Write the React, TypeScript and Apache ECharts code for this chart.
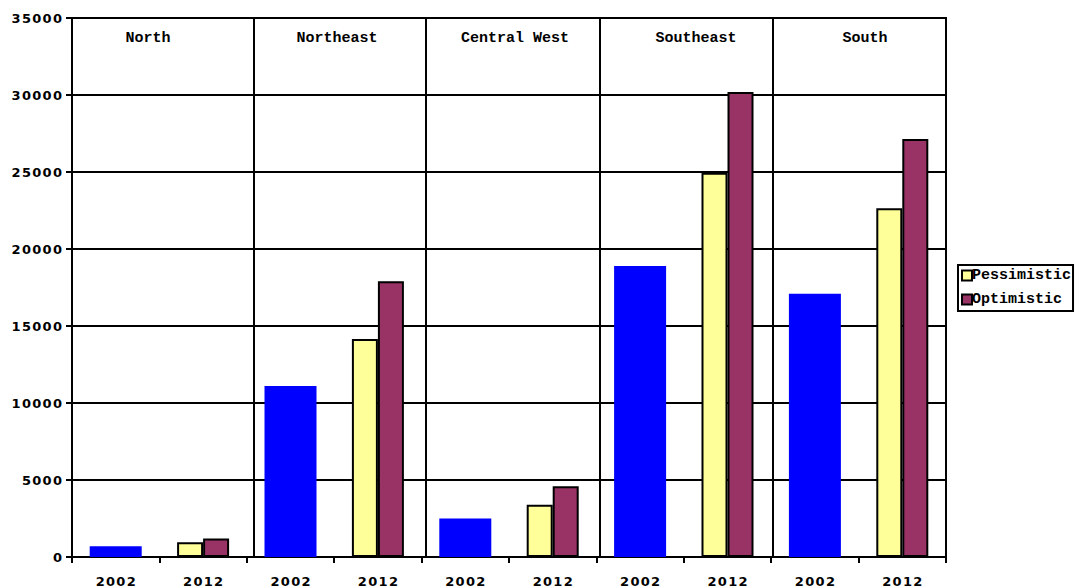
import React, { useEffect, useRef } from "react";
import * as echarts from "echarts";

const regions = ["North", "Northeast", "Central West", "Southeast", "South"];
const years = ["2002", "2012"];
const actual2002 = [700, 11100, 2500, 18900, 17100];
const pessimistic2012 = [950, 14150, 3400, 24950, 22650];
const optimistic2012 = [1200, 17900, 4600, 30200, 27150];
const yTicks = { min: 0, max: 35000, interval: 5000 };
const separatorsAt = [2.08, 4.05, 6.04, 8.02];
const regionLabelX = [148, 337, 515, 696, 865];

export default function App() {
  const ref = useRef<HTMLDivElement>(null);
  useEffect(() => {
    document.body.style.margin = "0";
    const chart = echarts.init(ref.current!, null, { renderer: "svg" });
    const cats: string[] = [];
    const blue: (number | null)[] = [];
    const pes: (number | null)[] = [];
    const opt: (number | null)[] = [];
    regions.forEach((r, i) => {
      years.forEach((y) => {
        cats.push(r + "|" + y);
        if (y === "2002") {
          blue.push(actual2002[i]);
          pes.push(null);
          opt.push(null);
        } else {
          blue.push(null);
          pes.push(pessimistic2012[i]);
          opt.push(optimistic2012[i]);
        }
      });
    });
    const labelFont = {
      fontFamily: "DejaVu Sans",
      fontWeight: "bold" as const,
      fontSize: 13,
      color: "#000",
    };
    chart.setOption({
      animation: false,
      backgroundColor: "#fff",
      grid: {
        left: 72,
        right: 133,
        top: 18,
        bottom: 31,
        show: true,
        borderColor: "#000",
        borderWidth: 2,
        backgroundColor: "transparent",
      },
      legend: {
        data: ["Pessimistic", "Optimistic"],
        orient: "vertical",
        left: 958,
        top: 265,
        padding: [3, 2, 4, 3],
        itemGap: 9,
        itemWidth: 10,
        itemHeight: 10,
        borderColor: "#000",
        borderWidth: 2,
        icon: "rect",
        align: "left",
        textStyle: {
          fontFamily: "Liberation Mono",
          fontWeight: "bold",
          fontSize: 15,
          color: "#000",
          padding: [5, 0, 0, -5],
        },
      },
      xAxis: [
        {
          type: "category",
          data: cats,
          boundaryGap: true,
          axisLine: { lineStyle: { color: "#000", width: 2 } },
          axisTick: { show: true, length: 6, lineStyle: { color: "#000", width: 2 } },
          axisLabel: {
            ...labelFont,
            margin: 18,
            formatter: (v: string) => v.split("|")[1].split("").join("\u200A"),
          },
          splitLine: { show: false },
        },
        {
          type: "category",
          data: cats,
          show: false,
        },
        {
          type: "value",
          min: 0,
          max: 10,
          show: false,
        },
      ],
      yAxis: {
        type: "value",
        min: yTicks.min,
        max: yTicks.max,
        interval: yTicks.interval,
        axisLine: { show: true, lineStyle: { color: "#000", width: 2 } },
        axisTick: { show: true, length: 6, lineStyle: { color: "#000", width: 2 } },
        axisLabel: {
          ...labelFont,
          margin: 10,
          formatter: (v: number) => String(v).split("").join("\u200A"),
        },
        splitLine: { show: true, lineStyle: { color: "#000", width: 2 } },
      },
      graphic: regions.map((r, i) => ({
        type: "text",
        x: regionLabelX[i],
        y: 38,
        style: {
          text: r,
          fontFamily: "Liberation Mono",
          fontWeight: "bold",
          fontSize: 15,
          fill: "#000",
          align: "center",
          verticalAlign: "middle",
        },
        z: 10,
      })),
      series: [
        {
          name: "2002",
          type: "bar",
          xAxisIndex: 0,
          data: blue,
          barWidth: 52,
          itemStyle: { color: "#0000FF" },
        },
        {
          name: "Pessimistic",
          type: "bar",
          xAxisIndex: 1,
          data: pes,
          barWidth: 26,
          barGap: "0%",
          itemStyle: { color: "#FFFF99", borderColor: "#000", borderWidth: 2 },
        },
        {
          name: "Optimistic",
          type: "bar",
          xAxisIndex: 1,
          data: opt,
          barWidth: 26,
          barGap: "0%",
          itemStyle: { color: "#993366", borderColor: "#000", borderWidth: 2 },
        },
        {
          name: "sep",
          type: "line",
          xAxisIndex: 2,
          data: [],
          silent: true,
          markLine: {
            silent: true,
            symbol: "none",
            label: { show: false },
            lineStyle: { color: "#000", width: 2, type: "solid" },
            data: separatorsAt.map((v) => ({ xAxis: v })),
          },
        },
      ],
    });
    return () => chart.dispose();
  }, []);
  return <div ref={ref} style={{ width: 1079, height: 588 }} />;
}
